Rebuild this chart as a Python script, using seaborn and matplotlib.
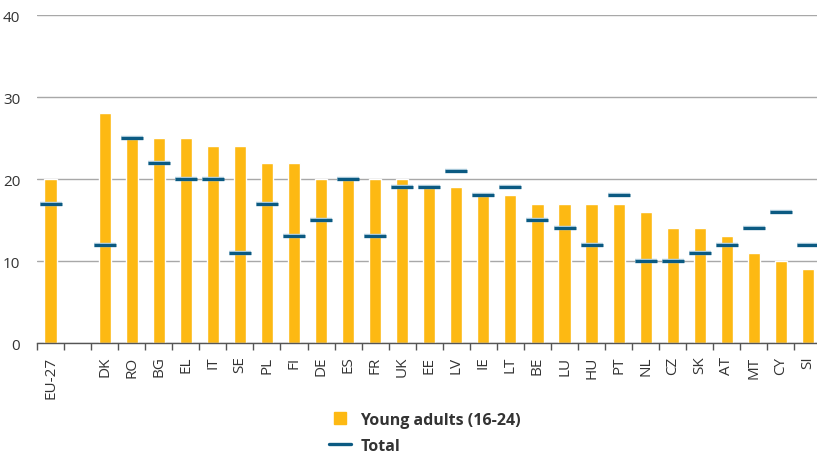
import numpy as np
import pandas as pd
import matplotlib.pyplot as plt
import seaborn as sns
from matplotlib.lines import Line2D

countries = ["EU-27", "", "DK", "RO", "BG", "EL", "IT", "SE", "PL", "FI", "DE", "ES",
             "FR", "UK", "EE", "LV", "IE", "LT", "BE", "LU", "HU", "PT", "NL", "CZ",
             "SK", "AT", "MT", "CY", "SI"]
young_adults = [20, np.nan, 28, 25, 25, 25, 24, 24, 22, 22, 20, 20,
                20, 20, 19, 19, 18, 18, 17, 17, 17, 17, 16, 14,
                14, 13, 11, 10, 9]
total = [17, np.nan, 12, 25, 22, 20, 20, 11, 17, 13, 15, 20,
         13, 19, 19, 21, 18, 19, 15, 14, 12, 18, 10, 10,
         11, 12, 14, 16, 12]

df = pd.DataFrame({"country": countries, "young": young_adults, "total": total})

YELLOW = "#FDB913"
BLUE = "#0B5A82"
TEXT = "#333333"

sns.set_style("white")
plt.rcParams["font.family"] = ["Open Sans", "DejaVu Sans"]

fig = plt.figure(figsize=(8.17, 4.56), dpi=100)
ax = fig.add_axes([0.0453, 0.2456, 0.9602, 0.7193])

sns.barplot(data=df, x="country", y="young", order=countries, color=YELLOW,
            width=0.45, saturation=1, ax=ax, zorder=2)
# faint halo under the total markers
sns.stripplot(data=df, x="country", y="total", order=countries, jitter=False,
              marker="_", size=16.5, linewidth=3.2, color="#B9D3E2", ax=ax, zorder=3)
sns.stripplot(data=df, x="country", y="total", order=countries, jitter=False,
              marker="_", size=16, linewidth=2.3, color=BLUE, ax=ax, zorder=4)

ax.set_ylim(0, 40)
ax.set_xlim(-0.5, len(countries) - 0.5)
ax.set_yticks([0, 10, 20, 30, 40])
ax.yaxis.grid(True, color="#a8a8a8", linewidth=1)
ax.set_axisbelow(True)
ax.set_xlabel("")
ax.set_ylabel("")

ax.set_xticks(range(len(countries)))
ax.set_xticklabels(countries, rotation=90, fontsize=11, color=TEXT)
ax.set_xticks(np.arange(-0.5, len(countries), 1), minor=True)
ax.tick_params(axis="x", which="major", bottom=True, length=0, pad=9)
ax.tick_params(axis="x", which="minor", bottom=True, length=5, width=1,
               color="#555555", direction="out")
ax.tick_params(axis="y", length=0, labelsize=11, labelcolor=TEXT, pad=12)

for s in ["top", "right", "left"]:
    ax.spines[s].set_visible(False)
ax.spines["bottom"].set_color("#555555")
ax.spines["bottom"].set_linewidth(1)

handles = [Line2D([0], [0], marker="s", markersize=8.5, color=YELLOW, linestyle="none"),
           Line2D([0], [0], color=BLUE, linewidth=2.4)]
leg = fig.legend(handles, ["Young adults (16-24)", "Total"], loc="upper left",
                 bbox_to_anchor=(0.395, 0.109), frameon=False,
                 prop={"weight": "bold", "size": 11.5}, labelspacing=0.62,
                 handlelength=1.4, handletextpad=0.55, borderaxespad=0)
for t in leg.get_texts():
    t.set_color(TEXT)

fig.savefig("out.png", dpi=100)
